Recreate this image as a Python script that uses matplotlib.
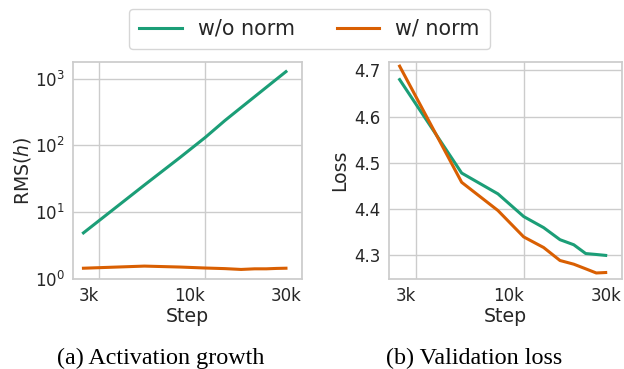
import matplotlib
matplotlib.use("Agg")
import matplotlib.pyplot as plt
from matplotlib.ticker import FixedLocator, NullLocator, FixedFormatter

steps = [2500, 5000, 7500, 10000, 12500, 15000, 17500, 20000, 22500, 25000]
rms_wo_norm = [4.9, 25.5, 66, 132, 236, 368, 535, 740, 985, 1270]
rms_w_norm = [1.45, 1.56, 1.51, 1.46, 1.43, 1.39, 1.42, 1.42, 1.44, 1.45]
loss_wo_norm = [4.680, 4.478, 4.433, 4.384, 4.360, 4.334, 4.323, 4.304, 4.302, 4.300]
loss_w_norm = [4.709, 4.458, 4.397, 4.340, 4.317, 4.289, 4.281, 4.271, 4.262, 4.263]

x_ticks = [3000, 10000, 30000]
x_tick_labels = ["3k", "10k", "30k"]
loss_ticks = [4.3, 4.4, 4.5, 4.6, 4.7]
loss_tick_labels = ["4.3", "4.4", "4.5", "4.6", "4.7"]
rms_ticks = [1, 10, 100, 1000]
rms_tick_labels = [r"$10^{0}$", r"$10^{1}$", r"$10^{2}$", r"$10^{3}$"]
series_labels = ["w/o norm", "w/ norm"]
captions = ["(a) Activation growth", "(b) Validation loss"]

c_green = "#1b9e77"
c_orange = "#d95f02"
txt = "#262626"
grey = "#cccccc"

plt.rcParams["font.family"] = ["DejaVu Sans"]
plt.rcParams["mathtext.fontset"] = "dejavusans"

W, H = 624, 369
fig = plt.figure(figsize=(W / 100, H / 100), dpi=100)

def box(x0, x1, y0, y1):
    return [x0 / W, 1 - y1 / H, (x1 - x0) / W, (y1 - y0) / H]

ax1 = fig.add_axes(box(73, 302, 62, 279))
ax2 = fig.add_axes(box(389, 622, 62, 279))

def style(ax):
    ax.set_facecolor("white")
    for s in ax.spines.values():
        s.set_color(grey)
        s.set_linewidth(1.25)
    ax.grid(True, color=grey, linewidth=1.0)
    ax.set_axisbelow(True)
    ax.tick_params(axis="both", which="both", length=0, labelsize=12, colors=txt, pad=6)
    ax.set_xscale("log")
    ax.xaxis.set_major_locator(FixedLocator(x_ticks))
    ax.xaxis.set_major_formatter(FixedFormatter(x_tick_labels))
    ax.xaxis.set_minor_locator(NullLocator())
    ax.set_xlim(2220, 30000)
    ax.set_xlabel("Step", fontsize=13.6, color=txt, labelpad=1)

style(ax1)
l1, = ax1.plot(steps, rms_wo_norm, color=c_green, lw=2.2, label=series_labels[0])
l2, = ax1.plot(steps, rms_w_norm, color=c_orange, lw=2.2, label=series_labels[1])
ax1.set_yscale("log")
ax1.yaxis.set_major_locator(FixedLocator(rms_ticks))
ax1.yaxis.set_major_formatter(FixedFormatter(rms_tick_labels))
ax1.yaxis.set_minor_locator(NullLocator())
ax1.set_ylim(1, 1770)
ax1.set_ylabel(r"RMS($h$)", fontsize=13.6, color=txt, labelpad=1)

style(ax2)
ax2.plot(steps, loss_wo_norm, color=c_green, lw=2.2)
ax2.plot(steps, loss_w_norm, color=c_orange, lw=2.2)
ax2.yaxis.set_major_locator(FixedLocator(loss_ticks))
ax2.yaxis.set_major_formatter(FixedFormatter(loss_tick_labels))
ax2.set_ylim(4.249, 4.718)
ax2.set_ylabel("Loss", fontsize=13.6, color=txt, labelpad=4)

for ax in (ax1, ax2):
    for lab in ax.get_xticklabels():
        lab.set_horizontalalignment("right")

leg = fig.legend(handles=[l1, l2], loc="center", bbox_to_anchor=(309.5 / W, 1 - 29 / H),
                 ncol=2, fontsize=14.9, frameon=True, fancybox=True,
                 borderpad=0.5, handlelength=2.05)
leg.get_frame().set_edgecolor(grey)
leg.get_frame().set_linewidth(1.0)
for t in leg.get_texts():
    t.set_color(txt)

fig.text(161 / W, 1 - 358 / H, captions[0], ha="center", va="center",
         fontsize=17.4, family=["Liberation Serif"], color="black")
fig.text(474 / W, 1 - 358 / H, captions[1], ha="center", va="center",
         fontsize=17.4, family=["Liberation Serif"], color="black")

fig.savefig("out.png", dpi=100)
